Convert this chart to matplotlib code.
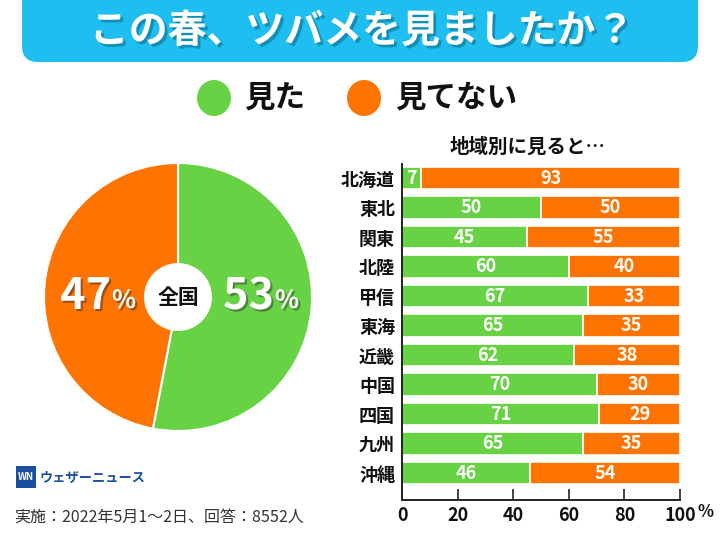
import matplotlib
matplotlib.use("Agg")
import matplotlib.pyplot as plt
from matplotlib.patches import FancyBboxPatch, Ellipse, Circle, Rectangle
import matplotlib.patheffects as pe

plt.rcParams['font.family'] = ['Noto Sans CJK JP', 'DejaVu Sans']

# ---- data ----
title = "この春、ツバメを見ましたか？"
legend_labels = ["見た", "見てない"]
national = [53, 47]
regions = ['北海道', '東北', '関東', '北陸', '甲信', '東海', '近畿', '中国', '四国', '九州', '沖縄']
seen = [7, 50, 45, 60, 67, 65, 62, 70, 71, 65, 46]
not_seen = [93, 50, 55, 40, 33, 35, 38, 30, 29, 35, 54]
xticks = [0, 20, 40, 60, 80, 100]
xticklabels = ['0', '20', '40', '60', '80', '100']
footer = "実施：2022年5月1～2日、回答：8552人"

GREEN = '#66D244'
ORANGE = '#FF7300'
BLUE = '#1EBFF0'

W, H = 720, 540
fig = plt.figure(figsize=(7.2, 5.4), dpi=100)
fig.patch.set_facecolor('white')

# background axes in pixel coordinates
bg = fig.add_axes([0, 0, 1, 1])
bg.set_xlim(0, W)
bg.set_ylim(H, 0)
bg.axis('off')

bg.add_patch(FancyBboxPatch((22, -30), 676, 92, boxstyle="round,pad=0,rounding_size=16",
                            facecolor=BLUE, edgecolor='none'))
tshadow = [pe.withSimplePatchShadow(offset=(2, -2), shadow_rgbFace='#0a6f90', alpha=0.6)]
bg.text(362, 31, title, ha='center', va='center', fontsize=28, fontweight='bold',
        color='white', path_effects=tshadow)

# legend
bg.add_patch(Ellipse((214, 98), 34, 36, facecolor=GREEN, edgecolor='none'))
bg.text(244, 98, legend_labels[0], ha='left', va='center', fontsize=22, fontweight='bold', color='#111111')
bg.add_patch(Ellipse((364, 98), 34, 36, facecolor=ORANGE, edgecolor='none'))
bg.text(395, 98, legend_labels[1], ha='left', va='center', fontsize=22, fontweight='bold', color='#111111')

# ---- pie ----
cx, cy, r = 178, 297, 134
pax = fig.add_axes([(cx - r) / W, (H - cy - r) / H, 2 * r / W, 2 * r / H])
pax.pie(national, colors=[GREEN, ORANGE], startangle=90, counterclock=False,
        wedgeprops=dict(edgecolor='white', linewidth=1.5))
pax.set_xlim(-1, 1)
pax.set_ylim(-1, 1)
pax.set_aspect('equal')
pax.add_patch(Circle((0, 0), 34 / r, facecolor='white', edgecolor='none', zorder=5))
pax.text(0, 0, "全国", ha='center', va='center', fontsize=15, fontweight='bold', color='#111111', zorder=6)

# ---- bar chart ----
x0, x1 = 402, 680
top, bottom = 164, 500
bax = fig.add_axes([x0 / W, (H - bottom) / H, (x1 - x0) / W, (bottom - top) / H])
ypos = list(range(len(regions)))
bax.barh(ypos, seen, height=0.75, color=GREEN, edgecolor='white', linewidth=1.2)
bax.barh(ypos, not_seen, left=seen, height=0.75, color=ORANGE, edgecolor='white', linewidth=1.2)
bax.set_xlim(0, 100)
bax.set_ylim(len(regions) - 1 + 0.915, -0.475)
for y, s, n in zip(ypos, seen, not_seen):
    bax.text(s / 2, y, str(s), ha='center', va='center', color='white', fontsize=13, fontweight='bold')
    bax.text(s + n / 2, y, str(n), ha='center', va='center', color='white', fontsize=13, fontweight='bold')
bax.set_yticks(ypos)
bax.set_yticklabels(regions, fontsize=13, fontweight='bold', color='#111111')
bax.set_xticks(xticks)
bax.set_xticklabels(xticklabels, fontsize=13, fontweight='bold', color='#111111')
bax.tick_params(axis='y', length=0, pad=5)
bax.tick_params(axis='x', direction='in', length=8, width=1.2, color='#222222', pad=4)
for side in ['top', 'right']:
    bax.spines[side].set_visible(False)
for side in ['left', 'bottom']:
    bax.spines[side].set_color('#222222')
    bax.spines[side].set_linewidth(1.4)
bax.set_facecolor('none')

# ---- overlay axes for texts drawn above everything ----
ov = fig.add_axes([0, 0, 1, 1])
ov.set_xlim(0, W)
ov.set_ylim(H, 0)
ov.axis('off')
ov.patch.set_alpha(0)

shadow = [pe.withSimplePatchShadow(offset=(1.5, -1.5), shadow_rgbFace='#333333', alpha=0.5)]
for xr, val in [(274, national[0]), (111, national[1])]:
    ov.text(xr, 296, str(val), ha='right', va='center', fontsize=31, fontweight='bold',
            color='white', path_effects=shadow)
    ov.text(xr + 1, 301, '%', ha='left', va='center', fontsize=18, fontweight='bold',
            color='white', path_effects=shadow)

ov.text(706, 512, '%', ha='center', va='center', fontsize=12, fontweight='bold', color='#111111')
ov.text(528, 147, "地域別に見ると…", ha='center', va='center', fontsize=14, fontweight='bold', color='#111111')

# ---- footer ----
ov.add_patch(Rectangle((16, 466), 20, 22, facecolor='#1a4fa0', edgecolor='none'))
ov.text(26, 477, "WN", ha='center', va='center', fontsize=7, fontweight='bold', color='white', style='italic')
ov.text(40, 478, "ウェザーニュース", ha='left', va='center', fontsize=9.5, fontweight='bold', color='#1a4fa0')
ov.text(14, 517, footer, ha='left', va='center', fontsize=11.5, color='#333333')

fig.savefig('out.png', dpi=100, facecolor='white')
